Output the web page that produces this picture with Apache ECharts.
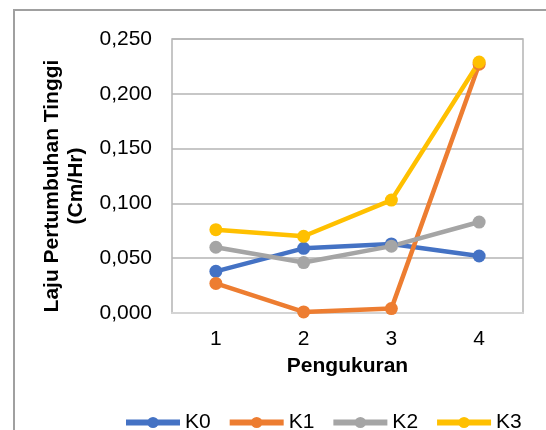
<!DOCTYPE html>
<html>
<head>
<meta charset="utf-8">
<script src="https://cdn.jsdelivr.net/npm/echarts@6/dist/echarts.min.js"></script>
<style>
html,body{margin:0;padding:0;background:#fff;}
#chart{width:546px;height:430px;}
</style>
</head>
<body>
<div id="chart"></div>
<script>
var categories = ['1', '2', '3', '4'];
var seriesNames = ['K0', 'K1', 'K2', 'K3'];
var K0 = [0.038, 0.059, 0.063, 0.052];
var K1 = [0.027, 0.001, 0.004, 0.227];
var K2 = [0.060, 0.046, 0.061, 0.083];
var K3 = [0.076, 0.070, 0.103, 0.229];
var yTicks = {min: 0, max: 0.25, interval: 0.05};
var yTitle = 'Laju Pertumbuhan Tinggi\n(Cm/Hr)';
var xTitle = 'Pengukuran';

var colors = ['#4472C4', '#ED7D31', '#A5A5A5', '#FFC000'];
var dataSets = [K0, K1, K2, K3];
var FONT = '"Liberation Sans", Arial, sans-serif';

var chart = echarts.init(document.getElementById('chart'), null, {renderer: 'canvas'});
chart.setOption({
  animation: false,
  backgroundColor: '#fff',
  color: colors,
  grid: {left: 172, right: 23, top: 39, bottom: 117, show: true, borderColor: '#b4b4b4', borderWidth: 1.5, containLabel: false},
  graphic: [
    {type: 'rect', shape: {x: 14, y: 10, width: 600, height: 500}, style: {fill: 'none', stroke: '#a0a0a0', lineWidth: 2}, z: -1},
    {type: 'text', x: 64, y: 186, rotation: Math.PI / 2,
     style: {text: yTitle, font: 'bold 21px ' + FONT, fill: '#000', align: 'center', verticalAlign: 'middle', lineHeight: 24}}
  ],
  legend: {
    data: seriesNames,
    left: 123, top: 412, padding: 0,
    itemWidth: 54, itemHeight: 14, itemGap: 16,
    lineStyle: {width: 6},
    textStyle: {fontFamily: FONT, fontSize: 21, color: '#000'}
  },
  xAxis: {
    type: 'category', data: categories, boundaryGap: true,
    name: xTitle, nameLocation: 'middle', nameGap: 43,
    nameTextStyle: {fontFamily: FONT, fontSize: 21, fontWeight: 'bold', color: '#000'},
    axisLine: {show: true, lineStyle: {color: '#d4d4d4', width: 2}},
    axisTick: {show: false},
    axisLabel: {fontFamily: FONT, fontSize: 21, color: '#000', margin: 16}
  },
  yAxis: {
    type: 'value', min: yTicks.min, max: yTicks.max, interval: yTicks.interval,
    axisLine: {show: false}, axisTick: {show: false},
    splitLine: {show: true, lineStyle: {color: '#b4b4b4', width: 1.5}},
    axisLabel: {fontFamily: FONT, fontSize: 21, color: '#000', margin: 20,
      formatter: function (v) { return v.toFixed(3).replace('.', ','); }}
  },
  series: seriesNames.map(function (n, i) {
    return {
      name: n, type: 'line', data: dataSets[i],
      symbol: 'circle', symbolSize: 13,
      lineStyle: {width: 4.5, color: colors[i]},
      itemStyle: {color: colors[i]}
    };
  })
});
</script>
</body>
</html>
